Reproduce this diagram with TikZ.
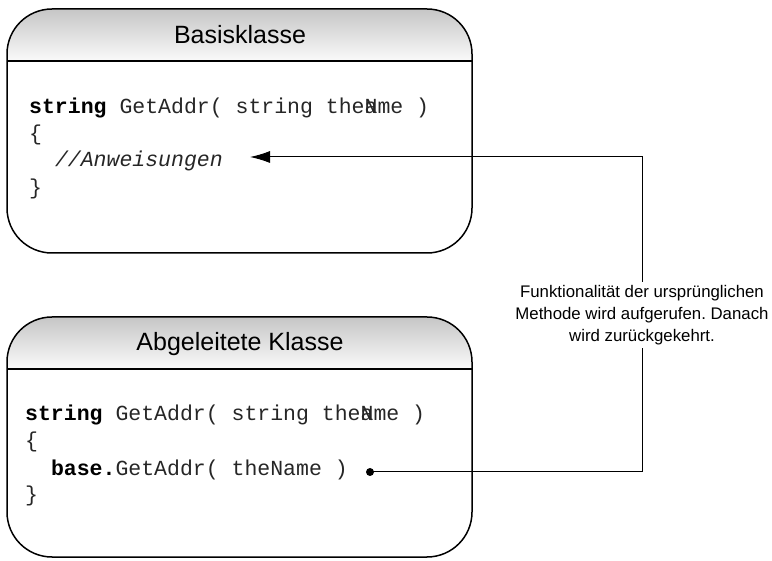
\documentclass[tikz,border=0pt]{standalone}
\usepackage{fontspec}
\setsansfont{Liberation Sans}
\setmonofont{Liberation Mono}
\usetikzlibrary{arrows.meta}
\frenchspacing

\begin{document}
\begin{tikzpicture}[x=1pt, y=-1pt,
  title/.style={font=\sffamily\fontsize{25}{30}\selectfont},
  code/.style={anchor=base west, inner sep=0, text=black!85, font=\ttfamily\fontsize{21.5}{25}\selectfont},
  note/.style={align=center, fill=white, inner sep=3, font=\sffamily\fontsize{16.8}{22}\selectfont}]
\useasboundingbox (0,0) rectangle (772,561);
% two class boxes with shaded header
\foreach \top/\bot in {9/253, 317/557} {
  \begin{scope}
    \clip[rounded corners=45] (7,\top) rectangle (472,\bot);
    \shade[top color=gray!45, bottom color=gray!4] (7,\top) rectangle (472,\top+52);
  \end{scope}
  \draw[line width=1.5, rounded corners=45] (7,\top) rectangle (472,\bot);
  \draw[line width=1.5] (7,\top+52) -- (472,\top+52);
}
\node[title] (basis) at (240,35) {Basisklasse};
\node[title] (abgel) at (240,344) {Abgeleitete Klasse};
% code of the base class
\node[code] (sig1) at (29,114) {\textbf{\color{black}string} GetAddr( string the\rlap{N}ame )};
\node[code] (open1) at (29,141) {\{};
\node[code] (anw) at (29,167) {\phantom{xx}\textit{//Anweisungen}};
\node[code] (close1) at (29,195) {\}};
% code of the derived class
\node[code] (sig2) at (25,421) {\textbf{\color{black}string} GetAddr( string the\rlap{N}ame )};
\node[code] (open2) at (25,448) {\{};
\node[code] (call) at (25,476) {\phantom{xx}\textbf{\color{black}base.}GetAddr( theName )};
\node[code] (close2) at (25,502) {\}};
% call goes out and comes back
\node[circle, fill, inner sep=0, minimum size=8] (dot) at (370,472) {};
\coordinate (tip) at (250,157);
\node[note] (hint) at (642,315) {Funktionalität der ursprünglichen\\Methode wird aufgerufen. Danach\\wird zurückgekehrt.};
\draw[line width=1] (dot.center) -| (hint.south);
\draw[line width=1, -{Latex[length=20, width=12]}] (hint.north) |- (tip);
\end{tikzpicture}
\end{document}
